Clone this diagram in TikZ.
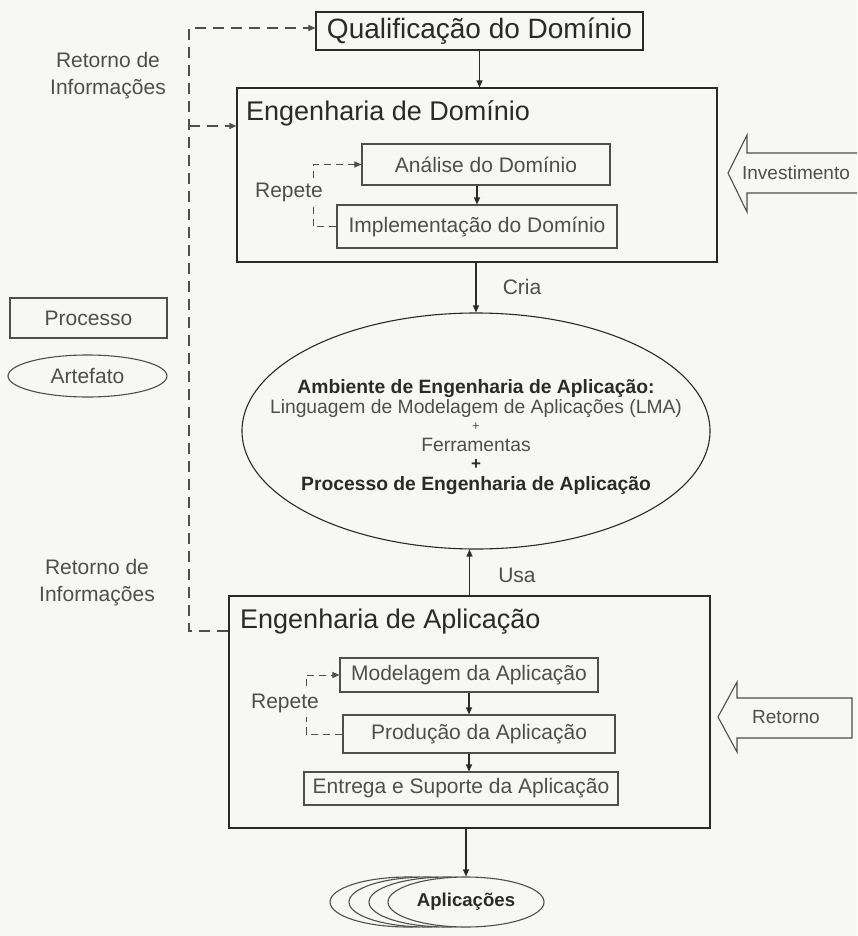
\documentclass[tikz,border=0pt]{standalone}
\usepackage{fontspec}
\setmainfont{Liberation Sans}
\usetikzlibrary{arrows.meta,shapes.geometric}
\definecolor{paper}{HTML}{F7F7F5}
\definecolor{ink}{HTML}{2A2A2A}
\definecolor{soft}{HTML}{4E4E4E}
\newcommand\fsz[2]{\fontsize{#1}{#2}\selectfont}
\tikzset{
  proc/.style={draw=ink, line width=1.2pt, inner sep=0pt},
  subproc/.style={draw=soft, line width=1.1pt, inner sep=0pt, text=soft, font=\fsz{21}{25}},
  artf/.style={ellipse, draw=soft, line width=1.1pt, inner sep=0pt},
  arr/.style={draw=ink, line width=1.2pt, -{Triangle[length=7pt,width=6pt]}},
  loopdash/.style={draw=soft, line width=1pt, dash pattern=on 7pt off 5pt},
  fbdash/.style={draw=soft, line width=1.1pt, dash pattern=on 11pt off 7pt},
  lbl/.style={inner sep=0pt, text=soft, font=\fsz{21}{27}, align=center},
  amtext/.style={inner sep=0pt, text=ink, font=\fsz{19.3}{23}},
  bigarrow/.style={draw=soft, line width=1.1pt, line join=miter}
}
\begin{document}
\begin{tikzpicture}[x=1pt,y=-1pt]
\fill[paper] (0,0) rectangle (857,936);
\useasboundingbox (0,0) rectangle (857,936);

% --- domain engineering ---
\node[proc, minimum width=327pt, minimum height=38pt, font=\fsz{28}{32}, text=ink] (qual) at (479.5,31) {Qualificação do Domínio};
\node[proc, minimum width=480pt, minimum height=174pt] (ed) at (477,175) {};
\node[anchor=west, inner sep=0pt, font=\fsz{27}{32}, text=ink] (edtitle) at (246,113) {Engenharia de Domínio};
\node[subproc, minimum width=248pt, minimum height=41pt] (analise) at (486,164.5) {Análise do Domínio};
\node[subproc, minimum width=280pt, minimum height=43pt] (impl) at (477,226.5) {Implementação do Domínio};

\draw[arr] (qual.south) -- (qual.south |- ed.north);
\draw[arr] (analise.south -| impl.north) -- (impl.north);

\coordinate (edloop) at (313,0);
\draw[loopdash, -{Triangle[length=7pt,width=6pt]}] (impl.west) -- (impl.west -| edloop) |- (analise.west);
\node[lbl, fill=paper, inner xsep=1pt, inner ysep=5pt] (rep1) at (289,192) {Repete};

% --- application engineering environment ---
\node[artf, draw=ink, minimum width=468pt, minimum height=236pt] (amb) at (476,431) {};
\draw[arr] (ed.south -| amb.north) -- (amb.north);
\node[lbl] (cria) at (522,287) {Cria};

\node[amtext, font=\fsz{19.3}{23}\bfseries] (am1) at (476,389) {Ambiente de Engenharia de Aplicação:};
\node[amtext, text=soft] (am2) at (476,409) {Linguagem de Modelagem de Aplicações (LMA)};
\node[amtext, text=soft, font=\fsz{13}{15}] (am3) at (476,427) {+};
\node[amtext, text=soft] (am4) at (476,445) {Ferramentas};
\node[amtext, font=\fsz{17}{20}\bfseries] (am5) at (476,465) {+};
\node[amtext, font=\fsz{19.3}{23}\bfseries] (am6) at (476,486) {Processo de Engenharia de Aplicação};

% --- application engineering ---
\node[proc, minimum width=481pt, minimum height=232pt] (edapp) at (469.5,712) {};
\node[anchor=west, inner sep=0pt, font=\fsz{27}{32}, text=ink] (apptitle) at (240,622) {Engenharia de Aplicação};
\node[subproc, minimum width=258pt, minimum height=34pt] (model) at (469,675) {Modelagem da Aplicação};
\node[subproc, minimum width=272pt, minimum height=38pt] (prod) at (479,734) {Produção da Aplicação};
\node[subproc, minimum width=314pt, minimum height=33pt] (entrega) at (461,788.5) {Entrega e Suporte da Aplicação};

\draw[arr] (edapp.north) -- (edapp.north |- amb.south);
\node[lbl] (usa) at (517,575) {Usa};
\draw[arr] (model.south) -- (model.south |- prod.north);
\draw[arr] (model.south |- prod.south) -- (model.south |- entrega.north);

\coordinate (aploop) at (306,0);
\draw[loopdash, -{Triangle[length=7pt,width=6pt]}] (prod.west) -- (prod.west -| aploop) |- (model.west);
\node[lbl, fill=paper, inner xsep=1pt, inner ysep=5pt] (rep2) at (285,703) {Repete};

% --- stacked applications ---
\node[artf, fill=paper, minimum width=156pt, minimum height=50pt] (app3) at (408,902) {};
\node[artf, fill=paper, minimum width=156pt, minimum height=50pt] (app2) at (427,902) {};
\node[artf, fill=paper, minimum width=156pt, minimum height=50pt] (app1) at (447,902) {};
\node[artf, fill=paper, minimum width=156pt, minimum height=50pt, text=ink, font=\fsz{18.6}{22}\bfseries] (app) at (466,902) {Aplicações};
\draw[arr] (app.north |- edapp.south) -- (app.north);

% --- legend ---
\node[subproc, minimum width=157pt, minimum height=40pt] (legproc) at (88.5,318) {Processo};
\node[artf, minimum width=159pt, minimum height=42pt, text=soft, font=\fsz{21}{25}] (legart) at (87.5,376) {Artefato};

% --- feedback ---
\node[lbl] (ret1) at (108,76) {Retorno de\\Informações};
\node[lbl] (ret2) at (97,583) {Retorno de\\Informações};
\coordinate (fbtop) at (189,28);
\coordinate (fbmid) at (189,126);
\coordinate (fbbot) at (189,631);
\draw[fbdash, -{Triangle[length=7pt,width=6pt]}] (edapp.west |- fbbot) -- (fbbot) -- (fbtop) -- (fbtop -| qual.west);
\draw[fbdash, -{Triangle[length=7pt,width=6pt]}] (fbmid) -- (fbmid -| ed.west);

% --- investment and return ---
\draw[bigarrow] (857,153) -- (747,153) -- (747,135) -- (728,173) -- (747,212) -- (747,193) -- (857,193);
\node[lbl, font=\fsz{19}{23}] (invest) at (796,173) {Investimento};
\draw[bigarrow] (852,698) -- (737,698) -- (737,682) -- (718,717) -- (737,752) -- (737,738) -- (852,738) -- cycle;
\node[lbl, font=\fsz{19}{23}] (retorno) at (786,717) {Retorno};
\end{tikzpicture}
\end{document}
